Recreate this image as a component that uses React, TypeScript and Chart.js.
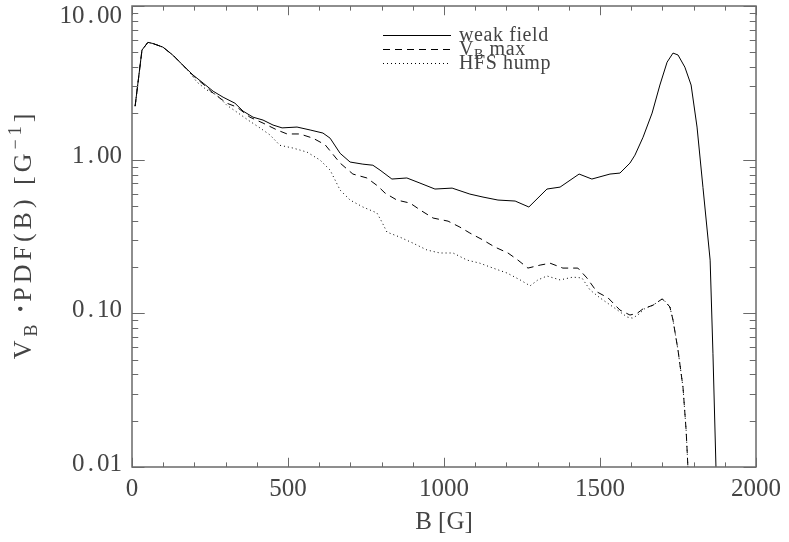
import React, { useEffect, useRef } from "react";
import { Chart, registerables } from "chart.js";

Chart.register(...registerables);

// ---- Data ----
const weakB = [10, 32, 51, 67, 99, 131, 163, 196, 228, 260, 292, 330, 356, 388, 420, 452, 481, 529, 571, 612, 635, 667, 699, 740, 772, 795, 833, 881, 923, 971, 1026, 1083, 1125, 1173, 1228, 1272, 1330, 1372, 1433, 1474, 1532, 1564, 1596, 1612, 1638, 1667, 1692, 1715, 1734, 1750, 1772, 1792, 1811, 1830, 1853, 1862, 1872, 1878];
const weakV = [2.23, 5.17, 5.8, 5.7, 5.4, 4.79, 4.12, 3.55, 3.15, 2.79, 2.55, 2.33, 2.07, 1.89, 1.81, 1.68, 1.61, 1.63, 1.56, 1.49, 1.38, 1.10, 0.965, 0.935, 0.92, 0.855, 0.748, 0.76, 0.704, 0.644, 0.653, 0.597, 0.571, 0.546, 0.538, 0.492, 0.644, 0.663, 0.806, 0.748, 0.806, 0.818, 0.95, 1.07, 1.40, 2.01, 3.06, 4.31, 4.94, 4.8, 4.0, 3.06, 1.63, 0.66, 0.222, 0.055, 0.0095, 0.001];

const vmaxB = [10, 32, 51, 67, 99, 131, 163, 196, 228, 260, 304, 336, 378, 420, 465, 497, 538, 580, 619, 667, 708, 753, 788, 811, 849, 891, 929, 965, 1013, 1051, 1083, 1125, 1163, 1205, 1237, 1269, 1308, 1340, 1381, 1429, 1458, 1490, 1526, 1564, 1596, 1619, 1638, 1670, 1699, 1708, 1724, 1734, 1750, 1766, 1776, 1782, 1790];
const vmaxV = [2.23, 5.17, 5.8, 5.7, 5.4, 4.79, 4.12, 3.52, 3.1, 2.71, 2.33, 2.2, 1.89, 1.73, 1.56, 1.47, 1.47, 1.38, 1.25, 0.95, 0.806, 0.76, 0.673, 0.606, 0.546, 0.522, 0.463, 0.417, 0.398, 0.364, 0.333, 0.30, 0.27, 0.247, 0.222, 0.197, 0.206, 0.212, 0.197, 0.197, 0.17, 0.138, 0.126, 0.105, 0.0975, 0.1, 0.107, 0.113, 0.124, 0.12, 0.11, 0.0904, 0.0577, 0.033, 0.0174, 0.0098, 0.001];

const hfsB = [10, 32, 51, 67, 99, 131, 163, 185, 208, 240, 272, 304, 336, 372, 410, 442, 474, 516, 561, 603, 635, 667, 699, 740, 785, 801, 817, 859, 901, 946, 987, 1029, 1074, 1115, 1157, 1202, 1244, 1276, 1301, 1330, 1372, 1413, 1442, 1468, 1500, 1542, 1587, 1605, 1625, 1645, 1670, 1699, 1708, 1724, 1734, 1750, 1766, 1776, 1782, 1790];
const hfsV = [2.23, 5.17, 5.8, 5.7, 5.4, 4.79, 4.12, 3.7, 3.2, 2.84, 2.63, 2.26, 2.04, 1.81, 1.61, 1.45, 1.24, 1.19, 1.12, 0.993, 0.855, 0.634, 0.546, 0.492, 0.45, 0.393, 0.338, 0.313, 0.286, 0.258, 0.247, 0.247, 0.222, 0.212, 0.197, 0.183, 0.165, 0.151, 0.165, 0.175, 0.165, 0.172, 0.17, 0.142, 0.126, 0.11, 0.0946, 0.093, 0.099, 0.108, 0.113, 0.124, 0.12, 0.11, 0.0904, 0.0577, 0.033, 0.0174, 0.0098, 0.001];

const seriesLabels = ["weak field", "V_B max", "HFS hump"];
const xTickValues = [0, 500, 1000, 1500, 2000];
const xTickLabels = ["0", "500", "1000", "1500", "2000"];
const yTickValues = [0.01, 0.1, 1, 10];
const yTickLabels = ["0.01", "0.10", "1.00", "10.00"];
const xTitle = "B [G]";

const FONT = "'Liberation Serif', serif";
const AXIS_COLOR = "#6a6a6a";
const TEXT_COLOR = "#444";

function toPts(bs: number[], vs: number[]) {
  return bs.map((b, i) => ({ x: b, y: vs[i] }));
}

type Part = [string, number, number];

// width of rich text with per-character extra spacing
function richWidth(ctx: CanvasRenderingContext2D, parts: Part[], size: number, sp: number) {
  let w = 0;
  for (const [t, f] of parts) {
    ctx.font = `${Math.round(size * f)}px ${FONT}`;
    for (const ch of t) w += ctx.measureText(ch).width + sp;
  }
  return w - sp;
}
function drawRich(ctx: CanvasRenderingContext2D, parts: Part[], size: number, sp: number, x: number, y: number) {
  let cx = x;
  for (const [t, f, dy] of parts) {
    ctx.font = `${Math.round(size * f)}px ${FONT}`;
    for (const ch of t) {
      ctx.fillText(ch, cx, y + dy);
      cx += ctx.measureText(ch).width + sp;
    }
  }
}

const decorPlugin = {
  id: "decor",
  afterDraw(chart: any) {
    const ctx: CanvasRenderingContext2D = chart.ctx;
    const { left, right, top, bottom } = chart.chartArea;
    const xs = chart.scales.x;
    const ys = chart.scales.y;
    const w = right - left;
    const h = bottom - top;
    ctx.save();
    // frame
    ctx.strokeStyle = AXIS_COLOR;
    ctx.lineWidth = 1.5;
    ctx.strokeRect(left, top, w, h);
    // x ticks (bottom and top, inward)
    ctx.lineWidth = 1;
    const xMaj = 0.02 * h, xMin = 0.01 * h;
    for (let v = 0; v <= 2000; v += 100) {
      const px = Math.round(xs.getPixelForValue(v)) + 0.5;
      const len = v % 500 === 0 ? xMaj : xMin;
      ctx.beginPath();
      ctx.moveTo(px, bottom); ctx.lineTo(px, bottom - len);
      ctx.moveTo(px, top); ctx.lineTo(px, top + len);
      ctx.stroke();
    }
    // y ticks (log, left and right)
    const yMaj = 0.02 * w, yMin = 0.01 * w;
    for (let e = -2; e <= 0; e++) {
      for (let m = 1; m <= 10; m++) {
        const v = m * Math.pow(10, e);
        const py = Math.round(ys.getPixelForValue(v)) + 0.5;
        const len = m === 1 || m === 10 ? yMaj : yMin;
        ctx.beginPath();
        ctx.moveTo(left, py); ctx.lineTo(left + len, py);
        ctx.moveTo(right, py); ctx.lineTo(right - len, py);
        ctx.stroke();
      }
    }
    // tick labels
    ctx.fillStyle = TEXT_COLOR;
    ctx.font = `25px ${FONT}`;
    ctx.textAlign = "center";
    ctx.textBaseline = "middle";
    xTickValues.forEach((v, i) => {
      ctx.fillText(xTickLabels[i], xs.getPixelForValue(v), bottom + 22);
    });
    // y labels: fixed-pitch cells (wide period like the vector font)
    const cell = ctx.measureText("0").width;
    yTickValues.forEach((v, i) => {
      const py = Math.max(ys.getPixelForValue(v) - 3, top + 10);
      const lab = yTickLabels[i];
      const start = left - 10 - lab.length * cell;
      for (let k = 0; k < lab.length; k++) {
        ctx.fillText(lab[k], start + (k + 0.5) * cell, py);
      }
    });
    // x title
    ctx.textAlign = "center";
    ctx.fillText(xTitle, (left + right) / 2, bottom + 55);
    // y title (rotated, with sub/superscript)
    ctx.textAlign = "left";
    ctx.textBaseline = "alphabetic";
    const parts: Part[] = [
      ["V", 1, 0],
      ["B", 0.68, 6],
      [" \u2022", 0.7, -4],
      ["PDF(B) [G", 1, 0],
      ["\u22121", 0.68, -10],
      ["]", 1, 0],
    ];
    const tw = richWidth(ctx, parts, 26, 4);
    ctx.save();
    ctx.translate(31, (top + bottom) / 2);
    ctx.rotate(-Math.PI / 2);
    drawRich(ctx, parts, 26, 4, -tw / 2, 0);
    ctx.restore();
    // legend
    const dashes = [[], [7, 5], [1, 3]];
    const rowsY = [35, 49, 63];
    seriesLabels.forEach((lab, i) => {
      ctx.strokeStyle = "#000";
      ctx.lineWidth = 1;
      ctx.setLineDash(dashes[i]);
      ctx.beginPath();
      ctx.moveTo(383, rowsY[i] + 0.5);
      ctx.lineTo(451, rowsY[i] + 0.5);
      ctx.stroke();
      ctx.setLineDash([]);
      ctx.fillStyle = TEXT_COLOR;
      ctx.textBaseline = "alphabetic";
      ctx.textAlign = "left";
      let p: Part[];
      if (lab.startsWith("V_B")) {
        p = [["V", 1, 0], ["B", 0.68, 4], [lab.slice(3), 1, 0]];
      } else {
        p = [[lab, 1, 0]];
      }
      drawRich(ctx, p, 20, 0.6, 459, rowsY[i] + 6);
    });
    ctx.restore();
  },
};

export default function App() {
  const ref = useRef<HTMLCanvasElement | null>(null);
  useEffect(() => {
    document.body.style.margin = "0";
    const canvas = ref.current!;
    const chart = new Chart(canvas, {
      type: "line",
      data: {
        datasets: [
          { label: seriesLabels[0], data: toPts(weakB, weakV), borderColor: "#000", borderWidth: 1, pointRadius: 0, tension: 0, clip: 0 },
          { label: seriesLabels[1], data: toPts(vmaxB, vmaxV), borderColor: "#000", borderWidth: 1, borderDash: [7, 5], pointRadius: 0, tension: 0, clip: 0 },
          { label: seriesLabels[2], data: toPts(hfsB, hfsV), borderColor: "#000", borderWidth: 1, borderDash: [1, 3], pointRadius: 0, tension: 0, clip: 0 },
        ] as any,
      },
      options: {
        animation: false,
        responsive: false,
        maintainAspectRatio: false,
        layout: { padding: { top: 6, right: 33, left: 0, bottom: 0 } },
        plugins: { legend: { display: false }, tooltip: { enabled: false } },
        scales: {
          x: {
            type: "linear",
            min: 0,
            max: 2000,
            grid: { display: false },
            border: { display: false },
            ticks: { display: false },
            afterFit: (s: any) => { s.height = 75; },
          },
          y: {
            type: "logarithmic",
            min: 0.01,
            max: 10,
            grid: { display: false },
            border: { display: false },
            ticks: { display: false },
            afterFit: (s: any) => { s.width = 132; },
          },
        },
      } as any,
      plugins: [decorPlugin],
    });
    return () => chart.destroy();
  }, []);
  return (
    <div style={{ width: 789, height: 542, background: "#fff" }}>
      <canvas ref={ref} width={789} height={542} style={{ display: "block" }} />
    </div>
  );
}
